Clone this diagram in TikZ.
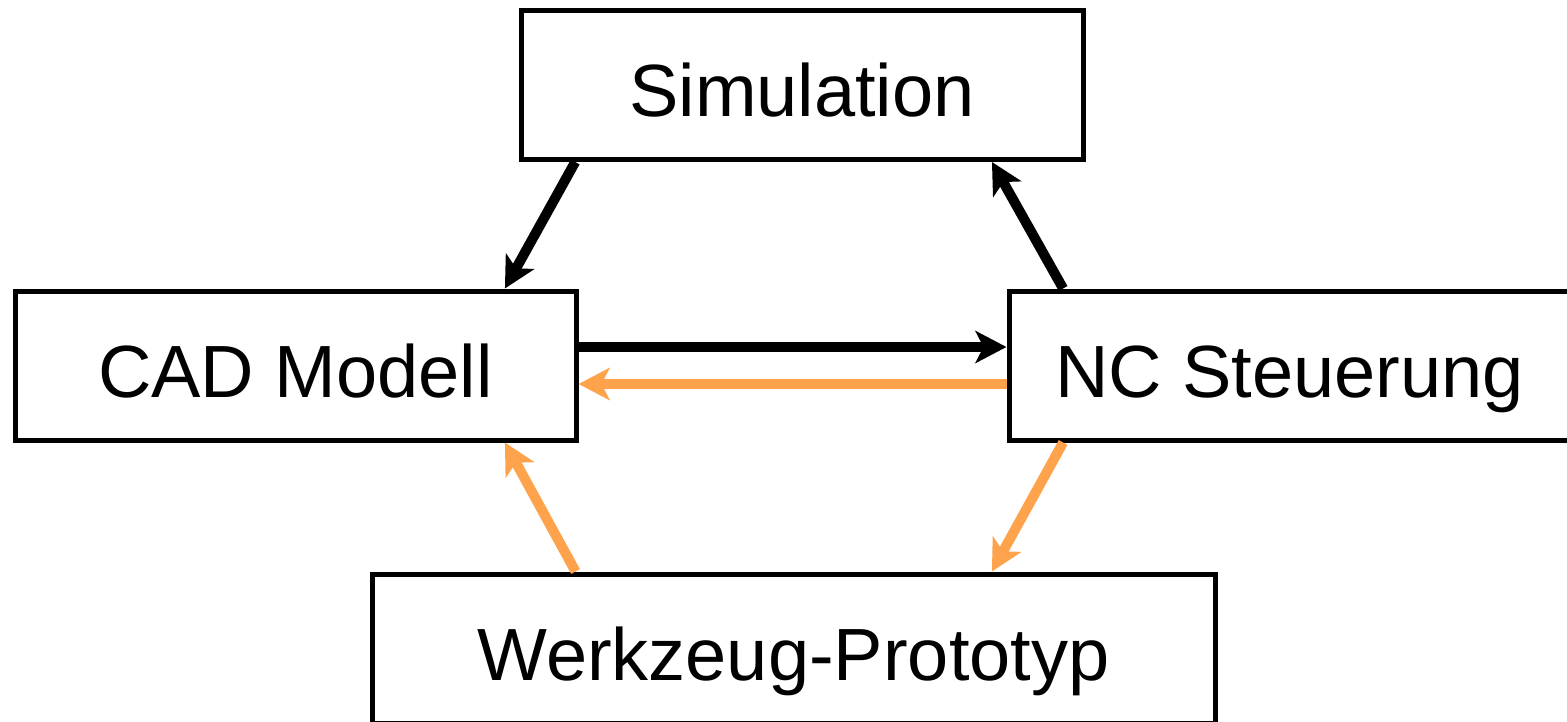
\documentclass[tikz,border=0pt]{standalone}
\usepackage{fontspec}
\setmainfont{Liberation Sans}
\usetikzlibrary{arrows.meta,calc}
\definecolor{flowblack}{RGB}{0,0,0}
\definecolor{floworange}{RGB}{255,162,76}
\tikzset{
  stage/.style={draw=black, line width=5pt, rectangle, inner sep=0pt,
    minimum height=149pt, text height=63pt, text depth=0pt,
    font=\fontsize{74}{80}\selectfont},
  flow/.style={line width=10pt, -{Stealth[length=31pt,width=32pt,inset=8pt]}},
  mainflow/.style={flow, draw=flowblack},
  backflow/.style={flow, draw=floworange}
}
\begin{document}
\begin{tikzpicture}[x=1pt,y=-1pt]
  \clip (0,0) rectangle (1567,721);
  \fill[white] (0,0) rectangle (1567,721);

  % process stages
  \node[stage, minimum width=562pt] (sim) at (802,85) {Simulation};
  \node[stage, minimum width=561pt] (cad) at (295.5,365.5) {CAD Modell};
  \node[stage, minimum width=561pt] (nc) at (1289.5,365.5) {NC Steuerung};
  \node[stage, minimum width=843pt] (tool) at (793.5,648.5) {Werkzeug-Prototyp};

  % forward loop
  \draw[mainflow] ($(sim.south west)!0.10!(sim.south east)$)
                  -- ($(cad.north west)!0.87!(cad.north east)$);
  \draw[mainflow] ($(cad.east)+(0,-18.5)$) -- ($(nc.west)+(0,-18.5)$);
  \draw[mainflow] ($(nc.north west)!0.10!(nc.north east)$)
                  -- ($(sim.south west)!0.835!(sim.south east)$);

  % feedback loop
  \draw[backflow] ($(nc.west)+(0,18.5)$) -- ($(cad.east)+(0,18.5)$);
  \draw[backflow] ($(nc.south west)!0.10!(nc.south east)$)
                  -- ($(tool.north west)!0.734!(tool.north east)$);
  \draw[backflow] ($(tool.north west)!0.243!(tool.north east)$)
                  -- ($(cad.south west)!0.87!(cad.south east)$);
\end{tikzpicture}
\end{document}
